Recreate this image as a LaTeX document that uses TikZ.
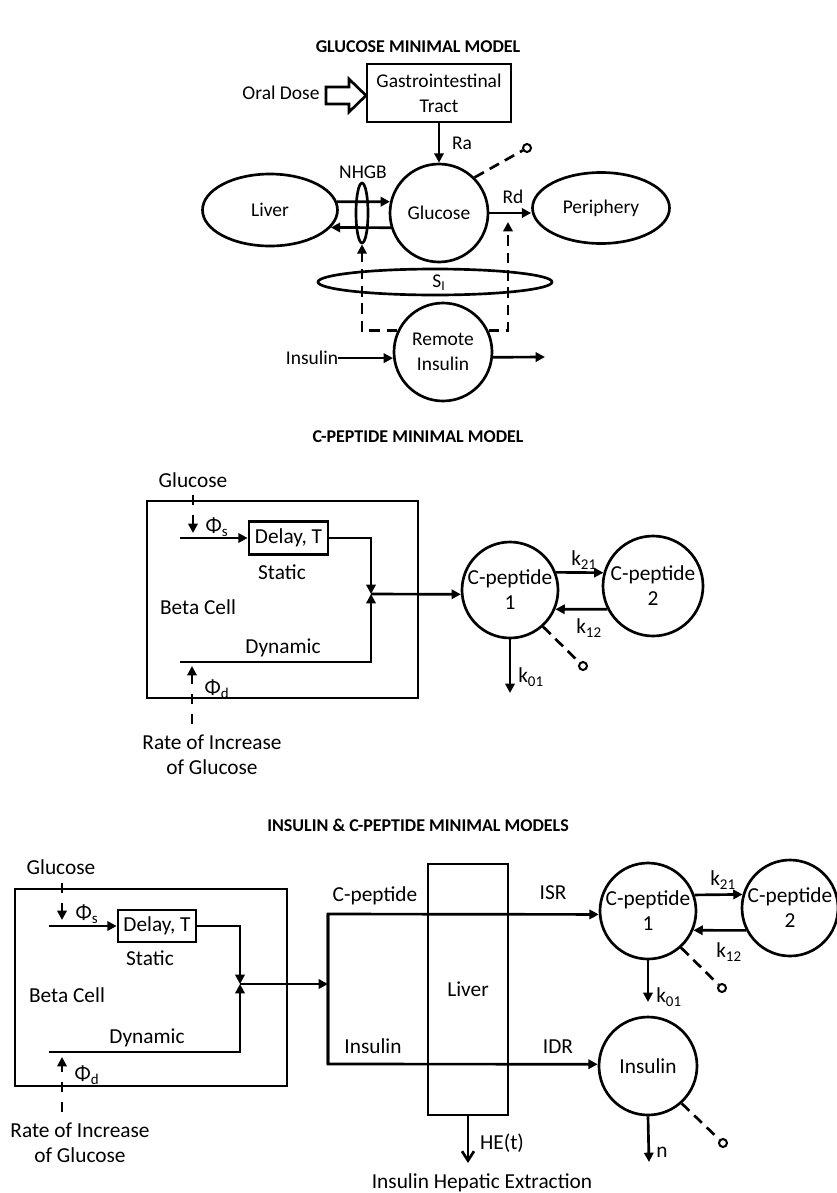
\documentclass[tikz,border=0pt]{standalone}
\usepackage{fontspec}
\setmainfont{Carlito}
\usetikzlibrary{shapes.geometric,arrows.meta}
\begin{document}
\begin{tikzpicture}[x=0.75pt,y=-0.75pt,
  every node/.style={font=\fontsize{14.6}{18.6}\selectfont,inner sep=0pt},
  lw/.style={line width=2pt},
  arr/.style={lw,-{Triangle[length=7pt,width=7pt]}},
  openarr/.style={lw,-{Straight Barb[length=7pt,width=9pt,line width=2pt]}},
  dsh/.style={dash pattern=on 8pt off 5pt},
  dshb/.style={dash pattern=on 7.5pt off 7.5pt},
  circ/.style={circle,draw,lw,align=center},
  ell/.style={ellipse,draw,lw},
  boxn/.style={rectangle,draw,lw,align=center},
  endcirc/.style={circle,draw,line width=1.5pt,minimum size=6pt},
  bigtext/.style={every node/.append style={font=\fontsize{16}{18.8}\selectfont}},
  ttl/.style={font=\fontsize{13.5}{16}\selectfont\bfseries}]
\useasboundingbox (0,0) rectangle (836,1193);

% ================= GLUCOSE MINIMAL MODEL =================
\node[ttl] (t1) at (418,47) {GLUCOSE MINIMAL MODEL};
\node[boxn,minimum width=108pt,minimum height=43.5pt] (gi) at (439,93) {Gastrointestinal\\Tract};
\node (oral) at (281,93) {Oral Dose};
\draw[lw,line join=miter] (326,87) -- (349,87) -- (349,79) -- (366,95.5) -- (349,112) -- (349,104) -- (326,104) -- cycle;
\node[circ,minimum size=73.5pt] (glu) at (439,213) {Glucose};
\node[ell,minimum width=101.25pt,minimum height=54pt] (liver) at (270,210) {Liver};
\node[ell,minimum width=102.75pt,minimum height=53.25pt] (peri) at (601,208) {Periphery};
\node[ell,minimum width=9pt,minimum height=45pt] (nhgb) at (362,213) {};
\node (nhgbl) at (363,172) {NHGB};
\node[endcirc] (o1) at (527,148) {};
\node (ra) at (462,143) {Ra};
\node (rd) at (513,197) {Rd};
\node[circ,minimum size=73.5pt] (rem) at (443,352) {Remote\\Insulin};
\node[ell,minimum width=175.5pt,minimum height=19.5pt] (si) at (435,282) {};
\node (sil) at (439,283) {S\textsubscript{I}};
\node (insin) at (312,358) {Insulin};
\coordinate (remout) at (545,357);
\coordinate (rdtip) at (508,222);

\draw[arr] (gi.south) -- (glu.north);
\draw[arr] (liver.7) -- (glu.167);
\draw[arr] (glu.197) -- (liver.-16);
\draw[arr] (glu.east) -- (glu.east -| peri.west);
\draw[lw,dsh] (glu.45) -- (o1);
\draw[arr,dsh] (rem.155) -| (nhgb.south);
\draw[arr,dsh] (rem.25) -| (rdtip);
\draw[arr] (rem.187 -| insin.east) -- (rem.187);
\draw[arr] (rem.-6) -- (remout);

\begin{scope}[bigtext]
% ================= C-PEPTIDE MINIMAL MODEL =================
\node[ttl] (t2) at (418,437) {C-PEPTIDE MINIMAL MODEL};
\node[boxn,minimum width=203.25pt,minimum height=147.75pt] (beta1) at (282.5,599.5) {};
\node (g1) at (193,480) {Glucose};
\node[boxn,minimum width=59.25pt,minimum height=24.75pt] (del1) at (288.5,538) {Delay, T};
\node (st1) at (282,572) {Static};
\node (bc1) at (198,607) {Beta Cell};
\node (dy1) at (283,648) {Dynamic};
\node (phis1) at (217,527) {Φ\textsubscript{s}};
\node (phid1) at (217,689) {Φ\textsubscript{d}};
\node[align=center] (rate1) at (212,755) {Rate of Increase\\of Glucose};
\coordinate (gs1a) at (193,495);
\coordinate (gs1b) at (193,533);
\coordinate (sin1) at (180,538);
\coordinate (din1) at (180,662);
\coordinate (jn1) at (371,594);
\coordinate (rd1a) at (192,724);
\coordinate (rd1b) at (192,666);
\node[circ,minimum size=72pt] (cp1) at (510,590) {C-peptide\\1};
\node[circ,minimum size=75pt] (cp2) at (653,586) {C-peptide\\2};
\node[endcirc] (o2) at (583,666) {};
\coordinate (k01e1) at (510,693);
\node (k21a) at (584,560) {k\textsubscript{21}};
\node (k12a) at (589,628) {k\textsubscript{12}};
\node (k01a) at (531,677) {k\textsubscript{01}};

\draw[arr,dshb] (gs1a) -- (gs1b);
\draw[arr] (sin1) -- (del1.west);
\draw[arr] (del1.east) -| (jn1);
\draw[arr] (din1) -| (jn1);
\draw[arr,dshb] (rd1a) -- (rd1b);
\draw[arr] (jn1) -- (cp1.185);
\draw[arr] (cp1.21) -- (cp2.165);
\draw[arr] (cp2.207) -- (cp1.-23);
\draw[arr] (cp1.south) -- (k01e1);
\draw[lw,dsh] (cp1.-48) -- (o2);

% ================= INSULIN & C-PEPTIDE MINIMAL MODELS =================
\node[ttl] (t3) at (418,825) {INSULIN \& C-PEPTIDE MINIMAL MODELS};
\node[boxn,minimum width=204pt,minimum height=147.75pt] (beta2) at (151,987.5) {};
\node (g2) at (61,867) {Glucose};
\node[boxn,minimum width=58.5pt,minimum height=24pt] (del2) at (157,926) {Delay, T};
\node (st2) at (150,958) {Static};
\node (bc2) at (67,995) {Beta Cell};
\node (dy2) at (147,1038) {Dynamic};
\node (phis2) at (87,914) {Φ\textsubscript{s}};
\node (phid2) at (87,1075) {Φ\textsubscript{d}};
\node[align=center] (rate2) at (80,1143) {Rate of Increase\\of Glucose};
\coordinate (gs2a) at (62,883);
\coordinate (gs2b) at (62,920);
\coordinate (sin2) at (49,926);
\coordinate (din2) at (49,1052);
\coordinate (jn2) at (240,984);
\coordinate (rd2a) at (62,1112);
\coordinate (rd2b) at (62,1057);
\coordinate (spt) at (328,914);
\coordinate (spb) at (328,1064);
\node[boxn,minimum width=60pt,minimum height=188.25pt] (liv2) at (468,989.5) {Liver};
\node (cpl) at (375,896) {C-peptide};
\node (isr) at (553,893) {ISR};
\node (insl) at (373,1046) {Insulin};
\node (idr) at (558,1047) {IDR};
\node[circ,minimum size=72pt] (bcp1) at (648,911) {C-peptide\\1};
\node[circ,minimum size=72pt] (bcp2) at (790,908) {C-peptide\\2};
\node[circ,minimum size=73.5pt] (ins) at (648,1066) {Insulin};
\node[endcirc] (o3) at (722,988) {};
\node[endcirc] (o4) at (723,1143) {};
\coordinate (k01e2) at (648,1002);
\coordinate (ne) at (649,1162);
\coordinate (het) at (468,1163);
\node (k21b) at (723,880) {k\textsubscript{21}};
\node (k12b) at (729,952) {k\textsubscript{12}};
\node (k01b) at (669,997) {k\textsubscript{01}};
\node (nl) at (662,1152) {n};
\node (hel) at (502,1143) {HE(t)};
\node (hee) at (482,1183) {Insulin Hepatic Extraction};

\draw[arr,dshb] (gs2a) -- (gs2b);
\draw[arr] (sin2) -- (del2.west);
\draw[arr] (del2.east) -| (jn2);
\draw[arr] (din2) -| (jn2);
\draw[arr,dshb] (rd2a) -- (rd2b);
\draw[arr] (jn2) -- (jn2 -| spt);
\draw[arr] (spb) -- (spt) -- (bcp1.184);
\draw[arr] (spt) -- (spb) -- (ins.178);
\draw[openarr] (liv2.south) -- (het);
\draw[arr] (bcp1.19.5) -- (bcp2.164);
\draw[arr] (bcp2.207) -- (bcp1.-23);
\draw[arr] (bcp1.south) -- (k01e2);
\draw[lw,dsh] (bcp1.-48) -- (o3);
\draw[arr] (ins.south) -- (ne);
\draw[lw,dsh] (ins.-48) -- (o4);
\end{scope}
\end{tikzpicture}
\end{document}
